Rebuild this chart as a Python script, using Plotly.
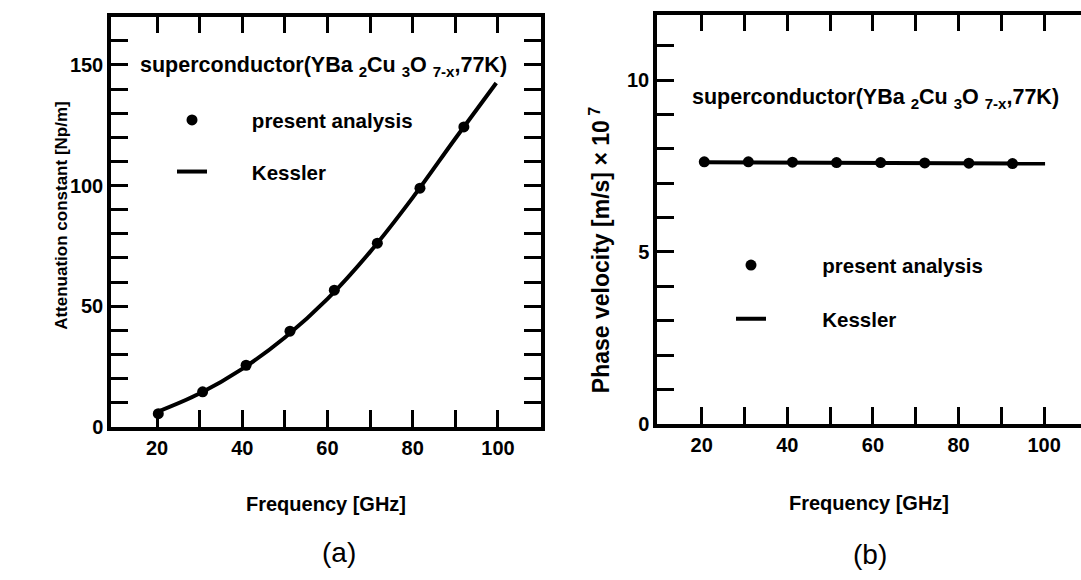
import plotly.graph_objects as go

# ---------------- data ----------------
freq_a = [20.3, 30.7, 40.9, 51.2, 61.6, 71.7, 81.7, 92.0]
atten_present = [5.4, 14.5, 25.5, 39.6, 56.6, 76.1, 98.9, 124.3]
kessler_a_freq = [19.8, 30, 40, 50, 60, 70, 80, 90, 99.6]
kessler_a_atten = [6.0, 13.8, 24.0, 37.0, 53.0, 72.5, 95.0, 119.5, 142.5]

freq_b = [20.6, 30.9, 41.2, 51.5, 61.8, 72.1, 82.4, 92.6]
vel_present = [7.62, 7.62, 7.61, 7.60, 7.60, 7.59, 7.58, 7.57]
kessler_b_freq = [20.6, 40, 60, 80, 100.2]
kessler_b_vel = [7.61, 7.60, 7.59, 7.58, 7.57]

x_major = [20, 40, 60, 80, 100]
x_minor = [30, 50, 70, 90]
ya_major = [0, 50, 100, 150]
yb_major = [0, 5, 10]
yb_right_ticks = list(range(1, 12))

header = "superconductor(YBa <sub>2</sub>Cu <sub>3</sub>O <sub>7-x</sub>,77K)"
NB = "\u00a0"

FONT = "Liberation Sans, Arial, Helvetica, sans-serif"
W, H = 1081, 580
LW = 3.5

fig = go.Figure()

# (a)
fig.add_trace(go.Scatter(x=kessler_a_freq, y=kessler_a_atten, mode="lines",
                         line=dict(color="black", width=4, shape="spline"),
                         name=NB * 7 + "Kessler", legend="legend", legendrank=2,
                         legendgroup="a2", xaxis="x", yaxis="y"))
fig.add_trace(go.Scatter(x=freq_a, y=atten_present, mode="markers",
                         marker=dict(size=11, color="black"),
                         name=NB * 7 + "present analysis", legend="legend", legendrank=1,
                         legendgroup="a1", xaxis="x", yaxis="y"))
# (b)
fig.add_trace(go.Scatter(x=kessler_b_freq, y=kessler_b_vel, mode="lines",
                         line=dict(color="black", width=4),
                         name=NB * 9 + "Kessler", legend="legend2", legendrank=2,
                         legendgroup="b2", xaxis="x2", yaxis="y2"))
fig.add_trace(go.Scatter(x=freq_b, y=vel_present, mode="markers",
                         marker=dict(size=11, color="black"),
                         name=NB * 9 + "present analysis", legend="legend2", legendrank=1,
                         legendgroup="b1", xaxis="x2", yaxis="y2"))

tick_font = dict(family=FONT, size=20, color="black", weight="bold")
axis_common = dict(showline=True, linewidth=LW, linecolor="black",
                   ticks="inside", ticklen=17, tickwidth=3, tickcolor="black",
                   showgrid=False, zeroline=False, tickfont=tick_font)
title_font = dict(family=FONT, size=20, color="black", weight="bold")
minor_x = dict(tickvals=x_minor, ticks="inside", ticklen=17, tickwidth=3,
               tickcolor="black", showgrid=False)

fig.update_layout(
    width=W, height=H,
    margin=dict(l=0, r=0, t=0, b=0),
    paper_bgcolor="white", plot_bgcolor="white",
    showlegend=True,
    xaxis=dict(domain=[111 / W, 541 / W], range=[9.2, 110.1], anchor="y",
               tickvals=x_major, mirror="ticks", minor=minor_x,
               title=dict(text="Frequency [GHz]", font=title_font, standoff=40),
               **axis_common),
    yaxis=dict(domain=[1 - 435 / H, 1 - 17 / H], range=[0, 170], anchor="x",
               tickvals=ya_major, mirror="ticks",
               minor=dict(dtick=10, tick0=0, ticks="inside", ticklen=17, tickwidth=3,
                          tickcolor="black", showgrid=False),
               **axis_common),
    xaxis2=dict(domain=[657 / W, 1.0], range=[9.56, 108.6], anchor="y2",
                tickvals=x_major, mirror="ticks", minor=minor_x,
                title=dict(text="Frequency [GHz]", font=title_font, standoff=42),
                **axis_common),
    yaxis2=dict(domain=[1 - 432 / H, 1 - 15 / H], range=[0, 11.9], anchor="x2",
                tickvals=yb_major, mirror=False,
                minor=dict(dtick=1, tick0=0, ticks="inside", ticklen=17, tickwidth=3,
                           tickcolor="black", showgrid=False),
                **axis_common),
    yaxis3=dict(overlaying="y2", side="right", anchor="x2", range=[0, 11.9],
                tickvals=yb_right_ticks, ticks="inside", ticklen=9, tickwidth=3,
                tickcolor="black", showticklabels=False, showline=False,
                showgrid=False, zeroline=False),
    legend=dict(x=138 / W, xanchor="left", y=1 - 102 / H, yanchor="top",
                bgcolor="rgba(0,0,0,0)", borderwidth=0, indentation=34,
                tracegroupgap=22, traceorder="grouped",
                font=dict(family=FONT, size=20.5, color="black", weight="bold")),
    legend2=dict(x=690 / W, xanchor="left", y=1 - 250 / H, yanchor="top",
                 bgcolor="rgba(0,0,0,0)", borderwidth=0, indentation=41,
                 tracegroupgap=24, traceorder="grouped",
                 font=dict(family=FONT, size=20.5, color="black", weight="bold")),
    annotations=[
        dict(text=header, xref="paper", yref="paper", x=138 / W, y=1 - 68 / H,
             xanchor="left", yanchor="middle", showarrow=False,
             font=dict(family=FONT, size=21.5, color="black", weight="bold")),
        dict(text=header, xref="paper", yref="paper", x=690 / W, y=1 - 100 / H,
             xanchor="left", yanchor="middle", showarrow=False,
             font=dict(family=FONT, size=21.5, color="black", weight="bold")),
        dict(text="Attenuation constant [Np/m]", xref="paper", yref="paper",
             x=62 / W, y=1 - 220 / H, xanchor="center", yanchor="middle",
             textangle=-90, showarrow=False,
             font=dict(family=FONT, size=17, color="black", weight="bold")),
        dict(text="Phase velocity [m/s] \u00d7 10<sup> 7</sup>", xref="paper", yref="paper",
             x=600 / W, y=1 - 255 / H, xanchor="center", yanchor="middle",
             textangle=-90, showarrow=False,
             font=dict(family=FONT, size=23, color="black", weight="bold")),
        dict(text="(a)", xref="paper", yref="paper", x=339 / W, y=1 - 563 / H,
             xanchor="center", yanchor="middle", showarrow=False,
             font=dict(family=FONT, size=28, color="black")),
        dict(text="(b)", xref="paper", yref="paper", x=870 / W, y=1 - 565 / H,
             xanchor="center", yanchor="middle", showarrow=False,
             font=dict(family=FONT, size=28, color="black")),
    ],
)

fig.write_html("out.html")
